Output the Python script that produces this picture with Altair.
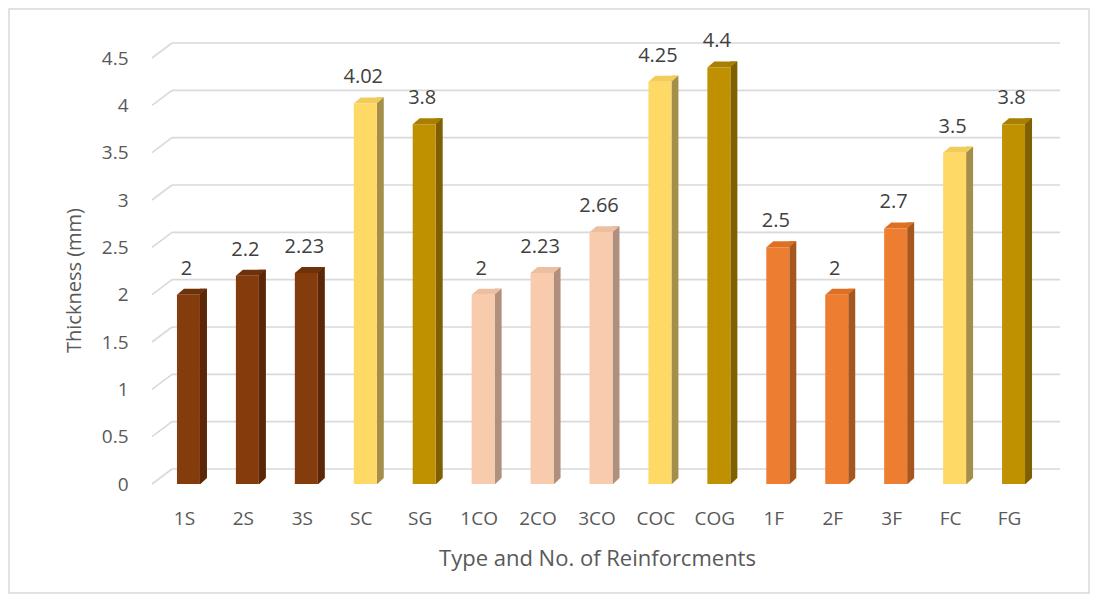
import altair as alt
import pandas as pd

categories = ["1S", "2S", "3S", "SC", "SG", "1CO", "2CO", "3CO", "COC", "COG",
              "1F", "2F", "3F", "FC", "FG"]
values = [2, 2.2, 2.23, 4.02, 3.8, 2, 2.23, 2.66, 4.25, 4.4, 2.5, 2, 2.7, 3.5, 3.8]
tones = ["brown", "brown", "brown", "yellow", "gold", "peach", "peach", "peach",
         "yellow", "gold", "orange", "orange", "orange", "yellow", "gold"]
y_ticks = [0, 0.5, 1, 1.5, 2, 2.5, 3, 3.5, 4, 4.5]

tone_domain = ["brown", "yellow", "gold", "peach", "orange"]
front_colors = ["#843C0C", "#FFD966", "#BF9000", "#F8CBAD", "#ED7D31"]
side_colors = ["#5A2808", "#A38F4A", "#7F6000", "#B0907C", "#A5571F"]
top_colors = ["#6E320A", "#F2CC58", "#A87F00", "#EDBE9F", "#DE7024"]

df = pd.DataFrame({"cat": categories, "v": values, "tone": tones})
df["base"] = 0.0
df["label"] = [f"{v:g}" for v in values]
grid_df = pd.DataFrame({"t": y_ticks})
frame_df = pd.DataFrame({"k": ["frame"]})

FONT = "Open Sans"
TXT = "#595959"

yscale = alt.Scale(domain=[0, 4.5], nice=False, zero=True)
xscale = alt.Scale(paddingInner=0, paddingOuter=0)

x_axis = alt.Axis(title="Type and No. of Reinforcments", labelAngle=0,
                  labelFontSize=19, labelColor=TXT, labelFont=FONT,
                  labelPadding=25, ticks=False, domain=False, grid=False,
                  titleFontSize=22, titleColor=TXT, titleFont=FONT,
                  titleFontWeight="normal", titleY=64)
y_axis = alt.Axis(title="Thickness (mm)", values=y_ticks, format="~g",
                  labelFontSize=19, labelColor=TXT, labelFont=FONT,
                  labelPadding=27, ticks=False, domain=False, grid=False,
                  titleFontSize=20, titleColor=TXT, titleFont=FONT,
                  titleFontWeight="normal", titleX=-71, titleY=222)

x_enc = alt.X("cat:N", sort=categories, scale=xscale, axis=x_axis)
x_plain = alt.X("cat:N", sort=categories, scale=xscale)

frame = alt.Chart(frame_df).mark_rect(filled=False, stroke="#d9d9d9", strokeWidth=1.5).encode(
    x=alt.value(-146), x2=alt.value(934), y=alt.value(-49), y2=alt.value(535),
    detail="k:N")

grid_back = alt.Chart(grid_df).mark_rule(color="#d9d9d9", strokeWidth=1.6, yOffset=-15).encode(
    y=alt.Y("t:Q", scale=yscale, axis=y_axis), x=alt.value(17), x2=alt.value(905))
grid_diag = alt.Chart(grid_df).mark_rule(color="#d9d9d9", strokeWidth=1.6, y2Offset=-15).encode(
    y=alt.Y("t:Q", scale=yscale), y2=alt.Y2("t:Q"),
    x=alt.value(-3), x2=alt.value(17))

side = alt.Chart(df).mark_bar(size=7, xOffset=19, yOffset=-6).encode(
    x=x_enc,
    y=alt.Y("v:Q", scale=yscale),
    y2=alt.Y2("base:Q"),
    color=alt.Color("tone:N", scale=alt.Scale(domain=tone_domain, range=side_colors), legend=None))

bottom_cut = alt.Chart(df).mark_point(shape="M 0 0.5 L 7.5 -6.5 L 7.5 1 L 0 1 Z", size=4,
                                      filled=True, opacity=1, color="white", xOffset=15.5,
                                      strokeWidth=0).encode(
    x=x_plain, y=alt.Y("base:Q", scale=yscale))

top = alt.Chart(df).mark_point(shape="M 0 0 L 23 0 L 30 -6 L 7 -6 Z", size=4, filled=True,
                               opacity=1, xOffset=-7.5, strokeWidth=0).encode(
    x=x_plain,
    y=alt.Y("v:Q", scale=yscale),
    color=alt.Color("tone:N", scale=alt.Scale(domain=tone_domain, range=top_colors), legend=None))

front = alt.Chart(df).mark_bar(size=23, xOffset=4).encode(
    x=x_plain,
    y=alt.Y("v:Q", scale=yscale),
    color=alt.Color("tone:N", scale=alt.Scale(domain=tone_domain, range=front_colors), legend=None))

labels = alt.Chart(df).mark_text(fontSize=20, color="#404040", font=FONT, baseline="alphabetic",
                                 dy=-20, dx=2).encode(
    x=x_plain, y=alt.Y("v:Q", scale=yscale), text="label:N")

chart = alt.layer(frame, grid_back, grid_diag, side, bottom_cut, top, front, labels).resolve_scale(
    color="independent"
).properties(
    width=884, height=426,
    autosize=alt.AutoSizeParams(type="none"),
    padding={"left": 147, "top": 50, "right": 52, "bottom": 110},
    background="white",
).configure_view(stroke=None)

chart.save("out.html", embed_options={"renderer": "svg", "actions": False})
